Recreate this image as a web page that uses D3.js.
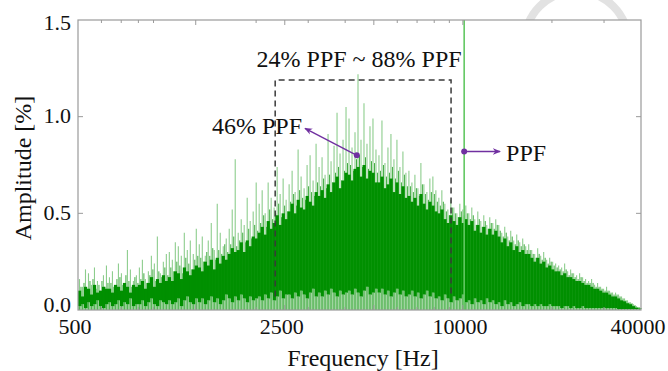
<!DOCTYPE html>
<html>
<head>
<meta charset="utf-8">
<script src="https://cdn.jsdelivr.net/npm/d3@7"></script>
<style>
  html, body { margin: 0; padding: 0; background: #fff; }
  svg { display: block; }
</style>
</head>
<body>
<svg id="chart" width="668" height="371"></svg>
<script>
// Spectrum amplitude [%] per log-spaced frequency bin (500 Hz .. 40 kHz).
// Tallest spike in each bin
const peak = [
  0.16, 0.12, 0.21, 0.19, 0.13, 0.22, 0.15, 0.10, 0.18, 0.23,
  0.17, 0.20, 0.12, 0.24, 0.19, 0.14, 0.31, 0.21, 0.15, 0.18,
  0.22, 0.26, 0.16, 0.20, 0.28, 0.24, 0.38, 0.19, 0.25, 0.29,
  0.30, 0.26, 0.35, 0.33, 0.28, 0.40, 0.31, 0.36, 0.29, 0.42,
  0.34, 0.38, 0.28, 0.36, 0.45, 0.31, 0.55, 0.40, 0.33, 0.37,
  0.42, 0.52, 0.78, 0.40, 0.47, 0.44, 0.58, 0.46, 0.51, 0.66,
  0.55, 0.62, 0.50, 0.66, 0.58, 0.53, 0.74, 0.60, 0.68, 0.57,
  0.65, 0.72, 0.61, 0.83, 0.69, 0.63, 0.75, 0.80, 0.67, 0.86,
  0.74, 0.79, 0.70, 0.91, 0.77, 0.85, 1.02, 0.81, 0.88, 1.05,
  0.99, 0.84, 0.92, 1.22, 0.88, 1.07, 0.86, 0.95, 0.99, 0.83,
  0.80, 0.98, 0.76, 0.84, 0.91, 0.78, 0.88, 0.74, 0.82, 0.71,
  0.72, 0.66, 0.70, 0.63, 0.76, 0.65, 0.61, 0.68, 0.69, 0.62,
  0.58, 0.62, 0.55, 0.52, 0.57, 0.53, 0.50, 0.55, 0.52, 0.54,
  0.50, 0.53, 0.47, 0.51, 0.46, 0.49, 0.44, 0.48, 0.45, 0.47,
  0.44, 0.40, 0.43, 0.38, 0.41, 0.36, 0.39, 0.35, 0.37, 0.33,
  0.34, 0.31, 0.29, 0.32, 0.28, 0.30, 0.26, 0.27, 0.25, 0.24,
  0.23, 0.22, 0.24, 0.20, 0.21, 0.19, 0.18, 0.19, 0.17, 0.16,
  0.15, 0.16, 0.13, 0.14, 0.12, 0.11, 0.12, 0.10, 0.09, 0.09,
  0.08, 0.07, 0.06, 0.05, 0.04, 0.03, 0.02, 0.015
];

// Second-highest spike in each bin
const mid = [
  0.12, 0.14, 0.10, 0.15, 0.16, 0.11, 0.13, 0.15, 0.12, 0.14,
  0.14, 0.12, 0.16, 0.17, 0.13, 0.18, 0.15, 0.12, 0.17, 0.14,
  0.16, 0.19, 0.14, 0.18, 0.21, 0.15, 0.20, 0.17, 0.22, 0.18,
  0.22, 0.20, 0.25, 0.23, 0.19, 0.27, 0.24, 0.21, 0.26, 0.28,
  0.27, 0.25, 0.30, 0.28, 0.32, 0.26, 0.31, 0.29, 0.34, 0.30,
  0.34, 0.38, 0.33, 0.36, 0.40, 0.35, 0.42, 0.37, 0.44, 0.41,
  0.45, 0.49, 0.43, 0.52, 0.47, 0.50, 0.55, 0.48, 0.54, 0.51,
  0.56, 0.60, 0.54, 0.62, 0.58, 0.57, 0.64, 0.61, 0.59, 0.66,
  0.64, 0.68, 0.63, 0.70, 0.66, 0.71, 0.74, 0.67, 0.72, 0.76,
  0.75, 0.72, 0.78, 0.80, 0.74, 0.79, 0.73, 0.77, 0.76, 0.71,
  0.72, 0.75, 0.69, 0.71, 0.74, 0.68, 0.72, 0.66, 0.70, 0.64,
  0.64, 0.61, 0.63, 0.59, 0.65, 0.60, 0.57, 0.61, 0.60, 0.56,
  0.54, 0.56, 0.51, 0.49, 0.53, 0.50, 0.48, 0.51, 0.49, 0.50,
  0.47, 0.49, 0.44, 0.47, 0.43, 0.46, 0.42, 0.45, 0.42, 0.44,
  0.41, 0.38, 0.40, 0.36, 0.38, 0.34, 0.36, 0.33, 0.34, 0.31,
  0.31, 0.29, 0.27, 0.29, 0.26, 0.27, 0.24, 0.25, 0.23, 0.22,
  0.21, 0.20, 0.21, 0.18, 0.19, 0.17, 0.16, 0.17, 0.15, 0.14,
  0.14, 0.14, 0.12, 0.12, 0.11, 0.10, 0.10, 0.09, 0.08, 0.08,
  0.07, 0.06, 0.05, 0.04, 0.035, 0.025, 0.015, 0.01
];

// Upper edge of the dense part of the spectrum
const body = [
  0.10, 0.07, 0.12, 0.11, 0.08, 0.13, 0.09, 0.10, 0.12, 0.11,
  0.11, 0.09, 0.13, 0.12, 0.10, 0.14, 0.12, 0.09, 0.13, 0.12,
  0.13, 0.15, 0.11, 0.14, 0.17, 0.12, 0.16, 0.14, 0.18, 0.15,
  0.17, 0.15, 0.20, 0.19, 0.16, 0.22, 0.20, 0.18, 0.21, 0.23,
  0.22, 0.20, 0.25, 0.23, 0.26, 0.21, 0.27, 0.24, 0.28, 0.26,
  0.29, 0.32, 0.30, 0.31, 0.35, 0.30, 0.36, 0.33, 0.38, 0.37,
  0.40, 0.43, 0.39, 0.46, 0.42, 0.45, 0.49, 0.44, 0.50, 0.47,
  0.51, 0.55, 0.50, 0.57, 0.53, 0.52, 0.59, 0.56, 0.54, 0.61,
  0.59, 0.62, 0.58, 0.65, 0.61, 0.66, 0.69, 0.63, 0.67, 0.71,
  0.70, 0.67, 0.73, 0.74, 0.69, 0.75, 0.68, 0.72, 0.71, 0.66,
  0.66, 0.69, 0.63, 0.65, 0.68, 0.61, 0.66, 0.60, 0.64, 0.58,
  0.59, 0.56, 0.58, 0.54, 0.60, 0.55, 0.52, 0.56, 0.54, 0.51,
  0.50, 0.52, 0.47, 0.45, 0.49, 0.46, 0.44, 0.48, 0.45, 0.47,
  0.44, 0.46, 0.41, 0.44, 0.40, 0.43, 0.39, 0.42, 0.39, 0.41,
  0.38, 0.35, 0.37, 0.33, 0.35, 0.31, 0.33, 0.30, 0.31, 0.29,
  0.29, 0.27, 0.25, 0.27, 0.24, 0.25, 0.22, 0.23, 0.21, 0.20,
  0.20, 0.18, 0.19, 0.17, 0.17, 0.16, 0.15, 0.15, 0.14, 0.13,
  0.13, 0.12, 0.11, 0.11, 0.10, 0.09, 0.09, 0.08, 0.07, 0.07,
  0.06, 0.05, 0.045, 0.035, 0.03, 0.02, 0.012, 0.008
];

// Lower edge of the dense part of the spectrum
const trough = [
  0.02, 0.03, 0.01, 0.04, 0.02, 0.03, 0.05, 0.02, 0.01, 0.03,
  0.04, 0.02, 0.03, 0.05, 0.02, 0.04, 0.03, 0.06, 0.02, 0.03,
  0.03, 0.05, 0.02, 0.04, 0.06, 0.03, 0.02, 0.05, 0.04, 0.03,
  0.05, 0.03, 0.04, 0.06, 0.02, 0.05, 0.07, 0.04, 0.03, 0.06,
  0.04, 0.06, 0.03, 0.05, 0.07, 0.04, 0.06, 0.03, 0.05, 0.08,
  0.06, 0.04, 0.07, 0.05, 0.08, 0.06, 0.04, 0.07, 0.05, 0.06,
  0.07, 0.05, 0.08, 0.06, 0.09, 0.05, 0.07, 0.10, 0.06, 0.08,
  0.08, 0.06, 0.09, 0.07, 0.10, 0.08, 0.06, 0.09, 0.11, 0.07,
  0.09, 0.07, 0.10, 0.08, 0.11, 0.09, 0.07, 0.10, 0.08, 0.09,
  0.10, 0.08, 0.11, 0.09, 0.07, 0.10, 0.12, 0.08, 0.09, 0.11,
  0.09, 0.11, 0.08, 0.10, 0.07, 0.09, 0.11, 0.08, 0.10, 0.07,
  0.08, 0.10, 0.07, 0.09, 0.06, 0.08, 0.10, 0.07, 0.09, 0.06,
  0.07, 0.05, 0.08, 0.06, 0.04, 0.07, 0.05, 0.06, 0.08, 0.04,
  0.05, 0.03, 0.06, 0.04, 0.05, 0.03, 0.06, 0.04, 0.05, 0.03,
  0.04, 0.02, 0.05, 0.03, 0.04, 0.02, 0.03, 0.04, 0.02, 0.03,
  0.03, 0.02, 0.03, 0.02, 0.03, 0.02, 0.02, 0.03, 0.02, 0.02,
  0.02, 0.01, 0.02, 0.02, 0.01, 0.02, 0.01, 0.01, 0.02, 0.01,
  0.01, 0.01, 0.01, 0.01, 0.01, 0.01, 0.01, 0.01, 0.01, 0.01,
  0.005, 0.005, 0.005, 0.005, 0.005, 0.005, 0.005, 0.005
];

// Axis settings
const freqDomain = [500, 40000];
const ampDomain = [0, 1.5];
const xLabelTicks = [500, 2500, 10000, 40000];
const xMajorTicks = [1250, 2500, 5000, 10000];
const xMinorTicks = [600, 700, 800, 900, 2000, 3000, 4000, 6000, 7000, 8000, 9000, 20000, 30000];
const yTicks = [0, 0.5, 1.0, 1.5];

// Annotations
const ppfFreq = 10100;
const bandLow = 2320, bandHigh = 9120, bandTop = 1.19, bandBottom = 0.07;
const note46 = { from: [4380, 0.80], to: [2926, 0.94], text: "46% PPF" };
const notePPF = { from: [ppfFreq, 0.82], to: [13360, 0.82], text: "PPF" };
const bandText = "24% PPF ~ 88% PPF";

const W = 668, H = 371;
const margin = { left: 78, right: 27, top: 20, bottom: 61 };
const svg = d3.select("#chart");

const x = d3.scaleLog().domain(freqDomain).range([margin.left, W - margin.right]);
const y = d3.scaleLinear().domain(ampDomain).range([H - margin.bottom, margin.top]);

// bin edges and centres, evenly spaced on the log axis
const N = peak.length;
const ratio = freqDomain[1] / freqDomain[0];
const edge = i => freqDomain[0] * Math.pow(ratio, i / N);
const bins = d3.range(N).map(i => ({
  lo: edge(i), hi: edge(i + 1), c: edge(i + 0.5), e: edge(i + 1),
  peak: peak[i], mid: mid[i], body: body[i], trough: trough[i]
}));

const serif = "'Liberation Serif', 'Times New Roman', serif";
const green = "#009000";
const purple = "#7030a0";

svg.append("rect").attr("width", W).attr("height", H).attr("fill", "#fff");

// faint ring of the page logo showing above the frame
svg.append("path")
  .attr("transform", "translate(576.5,43)")
  .attr("d", d3.arc()({ innerRadius: 48, outerRadius: 56, startAngle: 0, endAngle: 2 * Math.PI }))
  .attr("fill", "#e2e2e2");

svg.append("rect")
  .attr("x", x.range()[0]).attr("y", y.range()[1])
  .attr("width", x.range()[1] - x.range()[0])
  .attr("height", y.range()[0] - y.range()[1])
  .attr("fill", "#fff");

const plot = svg.append("g");

// pale floor below the dense part
plot.append("g").selectAll("rect").data(bins).join("rect")
  .attr("x", d => x(d.lo)).attr("width", d => x(d.hi) - x(d.lo))
  .attr("y", d => y(d.trough)).attr("height", d => y(0) - y(d.trough))
  .attr("fill", green).attr("fill-opacity", 0.42);

// dense body
plot.append("g").selectAll("rect").data(bins).join("rect")
  .attr("x", d => x(d.lo)).attr("width", d => x(d.hi) - x(d.lo) + 0.2)
  .attr("y", d => y(d.body)).attr("height", d => y(d.trough) - y(d.body))
  .attr("fill", green);

// second spikes, on the bin edges
plot.append("g").selectAll("line").data(bins).join("line")
  .attr("x1", d => x(d.e)).attr("x2", d => x(d.e))
  .attr("y1", d => y(d.trough)).attr("y2", d => y(d.mid))
  .attr("stroke", green).attr("stroke-opacity", 0.75).attr("stroke-width", 1);

// tallest spikes, on the bin centres
plot.append("g").selectAll("line").data(bins).join("line")
  .attr("x1", d => x(d.c)).attr("x2", d => x(d.c))
  .attr("y1", y(0)).attr("y2", d => y(d.peak))
  .attr("stroke", green).attr("stroke-opacity", 0.45).attr("stroke-width", 1.1);

// PPF line
plot.append("line")
  .attr("x1", x(ppfFreq)).attr("x2", x(ppfFreq))
  .attr("y1", y(0)).attr("y2", y(1.5))
  .attr("stroke", "#62c862").attr("stroke-width", 1.6);

// dashed band 24%..88% PPF
plot.append("path")
  .attr("d", d3.line()([[x(bandLow), y(bandBottom)], [x(bandLow), y(bandTop)],
                         [x(bandHigh), y(bandTop)], [x(bandHigh), y(bandBottom)]]))
  .attr("fill", "none").attr("stroke", "#3a3a3a").attr("stroke-width", 1.5)
  .attr("stroke-dasharray", "6,4");

// frame and ticks
const axisColor = "#9a9a9a";
const x0 = x.range()[0], x1 = x.range()[1], yB = y.range()[0], yT = y.range()[1];
svg.append("rect").attr("x", x0).attr("y", yT).attr("width", x1 - x0).attr("height", yB - yT)
  .attr("fill", "none").attr("stroke", axisColor).attr("stroke-width", 1.2);

const tickG = svg.append("g").attr("stroke", axisColor).attr("stroke-width", 1);
function xTick(f, len) {
  tickG.append("line").attr("x1", x(f)).attr("x2", x(f)).attr("y1", yB).attr("y2", yB - len);
  tickG.append("line").attr("x1", x(f)).attr("x2", x(f)).attr("y1", yT).attr("y2", yT + len);
}
xMajorTicks.forEach(f => xTick(f, 5));
xMinorTicks.forEach(f => xTick(f, 3));
yTicks.slice(1, -1).forEach(v => {
  tickG.append("line").attr("x1", x0).attr("x2", x0 + 5).attr("y1", y(v)).attr("y2", y(v));
  tickG.append("line").attr("x1", x1).attr("x2", x1 - 5).attr("y1", y(v)).attr("y2", y(v));
});

// tick labels
const txt = svg.append("g").attr("font-family", serif).attr("fill", "#111");
xLabelTicks.forEach(f => {
  txt.append("text").attr("x", x(f) - 3).attr("y", yB + 23.5)
    .attr("text-anchor", "middle").attr("font-size", 22).text(d3.format("d")(f));
});
yTicks.forEach(v => {
  const nudge = v === ampDomain[0] ? -5 : v === ampDomain[1] ? 3.3 : 0;
  txt.append("text").attr("x", x0 - 7).attr("y", y(v) + 6.7 + nudge)
    .attr("text-anchor", "end").attr("font-size", 22).text(d3.format(".1f")(v));
});

// axis titles
txt.append("text").attr("x", 363).attr("y", 366).attr("text-anchor", "middle")
  .attr("font-size", 24).text("Frequency [Hz]");
txt.append("text").attr("transform", "translate(30.5,168) rotate(-90)").attr("text-anchor", "middle")
  .attr("font-size", 24).text("Amplitude [%]");

// annotations
svg.append("defs").append("marker")
  .attr("id", "arrow").attr("viewBox", "0 0 10 10").attr("refX", 9).attr("refY", 5)
  .attr("markerWidth", 8).attr("markerHeight", 8).attr("markerUnits", "userSpaceOnUse")
  .attr("orient", "auto")
  .append("path").attr("d", "M0,1 L10,5 L0,9 L3,5 Z").attr("fill", purple);

[note46, notePPF].forEach(n => {
  svg.append("line")
    .attr("x1", x(n.from[0])).attr("y1", y(n.from[1]))
    .attr("x2", x(n.to[0])).attr("y2", y(n.to[1]))
    .attr("stroke", purple).attr("stroke-width", 1.4).attr("marker-end", "url(#arrow)");
  svg.append("circle").attr("cx", x(n.from[0])).attr("cy", y(n.from[1])).attr("r", 3).attr("fill", purple);
});

txt.append("text").attr("x", x(note46.to[0]) - 3).attr("y", y(note46.to[1]) + 5.5)
  .attr("text-anchor", "end").attr("font-size", 24).text(note46.text);
txt.append("text").attr("x", x(notePPF.to[0]) + 6).attr("y", y(notePPF.to[1]) + 10)
  .attr("text-anchor", "start").attr("font-size", 24).text(notePPF.text);
txt.append("text").attr("x", (x(bandLow) + x(bandHigh)) / 2 - 4).attr("y", y(bandTop) - 13)
  .attr("text-anchor", "middle").attr("font-size", 24).text(bandText);
</script>
</body>
</html>
